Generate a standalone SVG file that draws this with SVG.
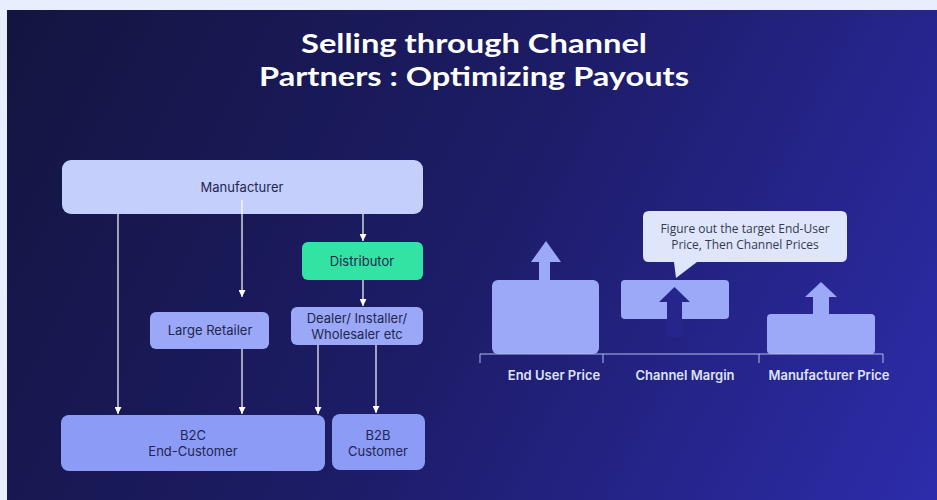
<svg xmlns="http://www.w3.org/2000/svg" width="937" height="500" viewBox="0 0 937 500">
  <defs>
    <linearGradient id="bg" gradientUnits="userSpaceOnUse" x1="7" y1="10" x2="937" y2="500">
      <stop offset="0" stop-color="#13153f"/>
      <stop offset="0.5" stop-color="#1d1c68"/>
      <stop offset="1" stop-color="#2d2cab"/>
    </linearGradient>
    <marker id="arr" viewBox="0 0 10 10" refX="10" refY="5" markerWidth="7" markerHeight="7" markerUnits="userSpaceOnUse" orient="auto">
      <path d="M0,0 L10,5 L0,10 z" fill="#ffffff"/>
    </marker>
    <style>
      .title { font-family: "Lato", "Liberation Sans", sans-serif; font-weight: 700; font-size: 27px; fill: #ffffff; }
      .lbl { font-family: "Inter", "Liberation Sans", sans-serif; font-size: 13px; fill: #23264f; text-anchor: middle; }
      .axis-lbl { font-family: "Inter", "Liberation Sans", sans-serif; font-weight: 600; font-size: 13px; fill: #dfe3f5; text-anchor: middle; }
      .note { font-family: "Open Sans", "Liberation Sans", sans-serif; font-size: 12px; fill: #343a4e; text-anchor: middle; }
      .top { fill: #c4cffb; }
      .mid { fill: #9aa8f7; }
      .low { fill: #8c9cf6; }
      .dist { fill: #32e3a3; }
      .bar { fill: #9ba9f8; }
      .conn line { stroke: #ffffff; stroke-width: 1.2; marker-end: url(#arr); }
      .axis { stroke: #b3bbe6; stroke-width: 1; fill: none; }
    </style>
  </defs>

  <!-- page frame and slide background -->
  <rect x="0" y="0" width="937" height="500" fill="#e8eefd"/>
  <rect x="7" y="10" width="930" height="490" fill="url(#bg)"/>

  <!-- title -->
  <text class="title" x="474" y="53" text-anchor="middle" textLength="346" lengthAdjust="spacingAndGlyphs">Selling through Channel</text>
  <text class="title" x="474" y="86" text-anchor="middle" textLength="430" lengthAdjust="spacingAndGlyphs">Partners : Optimizing Payouts</text>

  <!-- flow chart nodes -->
  <g id="manufacturer">
    <rect class="top" x="62" y="160" width="361" height="54" rx="9"/>
    <text class="lbl" x="242" y="192">Manufacturer</text>
  </g>
  <g id="distributor">
    <rect class="dist" x="302" y="242" width="121" height="38" rx="6"/>
    <text class="lbl" x="362" y="266">Distributor</text>
  </g>
  <g id="large-retailer">
    <rect class="mid" x="150" y="312" width="119" height="37" rx="6"/>
    <text class="lbl" x="210" y="335">Large Retailer</text>
  </g>
  <g id="dealer">
    <rect class="mid" x="291" y="307" width="132" height="38" rx="6"/>
    <text class="lbl" x="357" y="323">Dealer/ Installer/</text>
    <text class="lbl" x="357" y="339">Wholesaler etc</text>
  </g>
  <g id="b2c">
    <rect class="low" x="61" y="415" width="264" height="56" rx="8"/>
    <text class="lbl" x="193" y="440">B2C</text>
    <text class="lbl" x="193" y="456">End-Customer</text>
  </g>
  <g id="b2b">
    <rect class="low" x="332" y="414" width="93" height="56" rx="8"/>
    <text class="lbl" x="378" y="440">B2B</text>
    <text class="lbl" x="378" y="456">Customer</text>
  </g>

  <!-- flow chart connectors -->
  <g class="conn" id="connectors">
    <line x1="118" y1="214" x2="118" y2="414"/>
    <line x1="242" y1="200" x2="242" y2="297"/>
    <line x1="242" y1="349" x2="242" y2="414"/>
    <line x1="363" y1="214" x2="363" y2="241"/>
    <line x1="363" y1="280" x2="363" y2="306"/>
    <line x1="318" y1="345" x2="318" y2="414"/>
    <line x1="376" y1="345" x2="376" y2="413"/>
  </g>

  <!-- price bars -->
  <g id="end-user-price">
    <rect class="bar" x="492" y="280" width="107" height="74" rx="6"/>
    <path class="bar" d="M539,281 V262 H531 L546,241 L561,262 H550 V281 z"/>
  </g>
  <g id="channel-margin">
    <rect class="bar" x="621" y="280" width="108" height="39" rx="4"/>
    <path fill="#25258c" d="M667,337 V302 H659 L674.5,287 L690,302 H682 V337 z"/>
  </g>
  <g id="manufacturer-price">
    <rect class="bar" x="767" y="314" width="108" height="40" rx="4"/>
    <path class="bar" d="M813,315 V297 H805 L821,282 L837,297 H829 V315 z"/>
  </g>

  <!-- axis with ticks -->
  <path class="axis" d="M480,354 H883 M480,354 V363 M603,354 V363 M759,354 V363 M883,354 V363"/>
  <text class="axis-lbl" x="554" y="380">End User Price</text>
  <text class="axis-lbl" x="685" y="380">Channel Margin</text>
  <text class="axis-lbl" x="829" y="380">Manufacturer Price</text>

  <!-- callout -->
  <g id="callout">
    <path fill="#dfe6fc" d="M649,211 H841 Q847,211 847,217 V256 Q847,262 841,262 H697 L676,278 L674,262 H649 Q643,262 643,256 V217 Q643,211 649,211 z"/>
    <text class="note" x="745" y="233">Figure out the target End-User</text>
    <text class="note" x="745" y="249">Price, Then Channel Prices</text>
  </g>
</svg>
